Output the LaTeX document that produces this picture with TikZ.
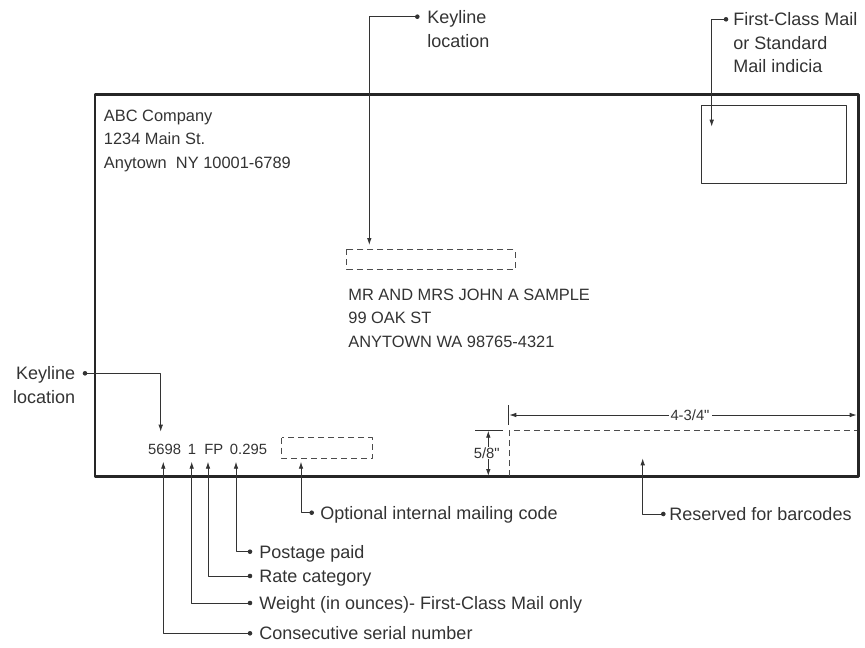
\documentclass[tikz,border=0pt]{standalone}
\usepackage{fontspec}
\setmainfont{Liberation Sans}[Ligatures=TeXOff]
\usetikzlibrary{arrows.meta}
\begin{document}
\begin{tikzpicture}[x=1pt,y=-1pt,line join=round,line width=0.9pt,>={Latex[length=7pt,width=4.6pt]},
  every node/.style={inner sep=0pt,text=black!80},
  lbl/.style={font=\fontsize{18}{23.5}\selectfont,align=left,anchor=base west},
  addr/.style={font=\fontsize{16.4}{23.8}\selectfont,align=left,anchor=base west},
  smalltxt/.style={font=\fontsize{14.8}{18}\selectfont,anchor=base west},
  dot/.style={fill=black!80},
  leader/.style={draw=black!80,->},
  keybox/.style={draw=black!70,dash pattern=on 6pt off 4pt,line width=1pt}]
\useasboundingbox (0,0) rectangle (865,648);
% envelope and indicia
\draw[black!85,line width=2.6pt] (95,94.3) rectangle (858.5,476.7);
\draw[black!80,line width=1pt] (701.7,105) rectangle (846.7,183.3);
\draw[keybox] (346.7,249.3) rectangle (515,269.3);
\draw[keybox] (281.7,437.7) rectangle (372.3,458.3);
\draw[keybox] (509.3,476) -- (509.3,430.7) -- (857,430.7);

% (base of last line)
\node[addr] (ret) at (103.5,168.6) {ABC Company\\1234 Main St.\\Anytown\ \ NY 10001-6789};
\node[addr] (to) at (348,347.6) {MR AND MRS JOHN A SAMPLE\\99 OAK ST\\ANYTOWN WA 98765-4321};
\node[smalltxt] (serial) at (147.7,454.3) {5698};
\node[smalltxt] (weight) at (187.5,454.3) {1};
\node[smalltxt] (rate) at (204,454.3) {FP};
\node[smalltxt] (paid) at (229.5,454.3) {0.295};

% dimensions
\draw[black!80] (508.3,405) -- (508.3,425);
\draw[black!80] (475,430.7) -- (502.7,430.7);
\draw[black!80,<->] (509.3,415) -- (856.7,415);
\node[smalltxt,anchor=center,fill=white,inner sep=2pt] (wdim) at (690,415) {4-3/4"};
\draw[black!80,<->] (488.3,430.7) -- (488.3,476);
\node[smalltxt,anchor=center,fill=white,inner sep=1pt] (hdim) at (486.7,453) {5/8"};

% callouts
\coordinate (dKeyTop) at (417.3,16.7);   \coordinate (tKeyTop) at (369.3,245);
\coordinate (dInd) at (726,19.3);        \coordinate (tInd) at (711.7,126.7);
\coordinate (dKeyLeft) at (85,373.3);    \coordinate (tKeyLeft) at (160.7,431.7);
\coordinate (dSerial) at (250,633.3);    \coordinate (tSerial) at (163.3,461.7);
\coordinate (dWeight) at (250,603);      \coordinate (tWeight) at (191.7,461.7);
\coordinate (dRate) at (250,576);        \coordinate (tRate) at (208,461.7);
\coordinate (dPaid) at (250,551.7);      \coordinate (tPaid) at (236,461.7);
\coordinate (dOpt) at (311.7,512.7);     \coordinate (tOpt) at (301,461.7);
\coordinate (dBar) at (663.3,514);       \coordinate (tBar) at (642.7,458.3);
\foreach \n in {KeyTop,Ind,KeyLeft,Serial,Weight,Rate,Paid,Opt,Bar}{
  \draw[leader] (d\n) -| (t\n);
  \fill[dot] (d\n) circle (2.3pt);
}

\node[lbl] (lKeyTop) at (427,47) {Keyline\\location};
\node[lbl] (lInd) at (733,72.5) {First-Class Mail\\or Standard\\Mail indicia};
\node[lbl,align=right,anchor=base east] (lKeyLeft) at (75.5,403.3) {Keyline\\location};
\node[lbl] (lSerial) at (259,639.6) {Consecutive serial number};
\node[lbl] (lWeight) at (259,609.3) {Weight (in ounces)- First-Class Mail only};
\node[lbl] (lRate) at (259,582.3) {Rate category};
\node[lbl] (lPaid) at (259,558) {Postage paid};
\node[lbl] (lOpt) at (320,519) {Optional internal mailing code};
\node[lbl] (lBar) at (669,520.3) {Reserved for barcodes};
\end{tikzpicture}
\end{document}
